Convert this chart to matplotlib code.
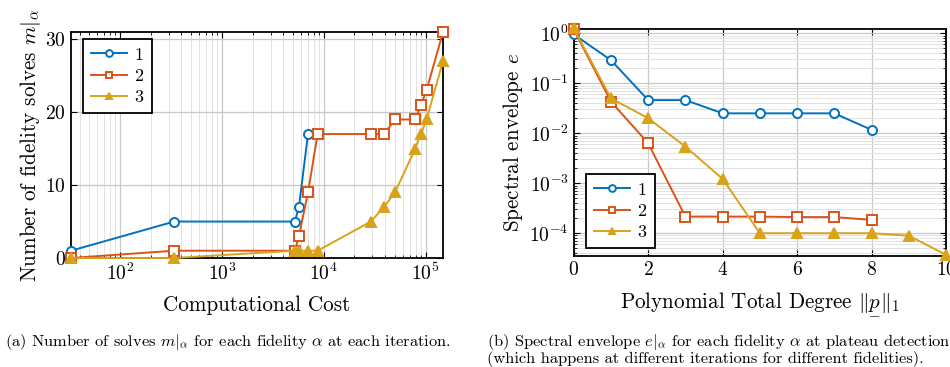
import numpy as np
import matplotlib
matplotlib.use("Agg")
import matplotlib.pyplot as plt
from matplotlib.ticker import LogLocator, NullFormatter

plt.rcParams["font.family"] = "serif"
plt.rcParams["font.serif"] = ["cmr10"]
plt.rcParams["mathtext.fontset"] = "cm"
plt.rcParams["axes.formatter.use_mathtext"] = True

# data
cost = [33, 340, 5200, 5700, 7000, 8700, 29000, 39000, 50000, 79000, 90000, 102000, 148000]
solves_1 = [1, 5, 5, 7, 17]
solves_2 = [0, 1, 1, 3, 9, 17, 17, 17, 19, 19, 21, 23, 31]
solves_3 = [0, 0, 1, 1, 1, 1, 5, 7, 9, 15, 17, 19, 27]

degree = list(range(11))
env_1 = [0.95, 0.29, 0.046, 0.046, 0.025, 0.025, 0.025, 0.025, 0.0117]
env_2 = [1.2, 0.043, 0.0063, 2.15e-4, 2.15e-4, 2.15e-4, 2.1e-4, 2.1e-4, 1.85e-4]
env_3 = [1.25, 0.05, 0.02, 0.0054, 0.00122, 1e-4, 1e-4, 1e-4, 1e-4, 8.9e-5, 3.7e-5]

labels = ["1", "2", "3"]
colors = ["#0072BD", "#D95319", "#D9A21B"]
markers = ["o", "s", "^"]
faces = ["white", "white", "#D9A21B"]

fig = plt.figure(figsize=(9.5, 3.67), dpi=100)
ax1 = fig.add_axes([71 / 950, 1 - 258 / 367, 372 / 950, 226 / 367])
ax2 = fig.add_axes([573.7 / 950, 1 - 256 / 367, 372.3 / 950, 226.7 / 367])

def style(ax):
    for s in ax.spines.values():
        s.set_linewidth(1.3)
    ax.tick_params(which="both", direction="in", top=True, right=True, labelsize=14)
    ax.tick_params(which="major", length=4, width=0.8)
    ax.tick_params(which="minor", length=2.5, width=0.6)
    ax.set_axisbelow(True)

def legend(ax, loc, anchor):
    leg = ax.legend(loc=loc, bbox_to_anchor=anchor, fontsize=13, borderaxespad=0,
                    fancybox=False, edgecolor="black", framealpha=1, handlelength=2.0,
                    handletextpad=0.4, borderpad=0.45, labelspacing=0.3, markerscale=0.75)
    leg.get_frame().set_linewidth(1.3)

kw = dict(lw=1.4, ms=6.5, mew=1.4)

# left plot
series = [(cost[:len(solves_1)], solves_1), (cost, solves_2), (cost, solves_3)]
for (x, y), lab, c, m, f in zip(series, labels, colors, markers, faces):
    ax1.plot(x, y, marker=m, color=c, markerfacecolor=f, label=lab, clip_on=False, zorder=3, **kw)
ax1.set_xscale("log")
ax1.set_xlim(33, 148000)
ax1.set_ylim(0, 31)
ax1.set_yticks([0, 10, 20, 30])
ax1.xaxis.set_minor_locator(LogLocator(base=10, subs=np.arange(2, 10), numticks=20))
ax1.xaxis.set_minor_formatter(NullFormatter())
ax1.grid(which="major", color="#c8c8c8", lw=0.9)
ax1.grid(which="minor", axis="x", color="#e2e2e2", lw=0.7)
style(ax1)
ax1.set_xlabel("Computational Cost", fontsize=15.2, labelpad=8)
ax1.set_ylabel(r"Number of fidelity solves $m|_\alpha$", fontsize=15.2, labelpad=2)
legend(ax1, "upper left", ((83 - 71) / 372, (258 - 39) / 226))

# right plot
for y, lab, c, m, f in zip([env_1, env_2, env_3], labels, colors, markers, faces):
    ax2.plot(degree[:len(y)], y, marker=m, color=c, markerfacecolor=f, label=lab, clip_on=False, zorder=3, **kw)
ax2.set_yscale("log")
ax2.set_xlim(0, 10)
ax2.set_ylim(3.5e-5, 1.2)
ax2.set_xticks([0, 2, 4, 6, 8, 10])
ax2.set_yticks([1e-4, 1e-3, 1e-2, 1e-1, 1])
ax2.yaxis.set_minor_locator(LogLocator(base=10, subs=np.arange(2, 10), numticks=20))
ax2.yaxis.set_minor_formatter(NullFormatter())
ax2.grid(which="major", color="#c8c8c8", lw=0.9)
ax2.grid(which="minor", axis="y", color="#e2e2e2", lw=0.7)
style(ax2)
ax2.set_xlabel(r"Polynomial Total Degree $\|\underset{-}{p}\|_1$", fontsize=15.2, labelpad=8)
ax2.set_ylabel(r"Spectral envelope $e$", fontsize=15.2, labelpad=3)
legend(ax2, "lower left", ((586 - 573.7) / 372.3, (256 - 248) / 226.7))

# captions
fig.text(5 / 950, 1 - 342 / 367, r"(a) Number of solves $m|_\alpha$ for each fidelity $\alpha$ at each iteration.",
         fontsize=11.8, va="center")
fig.text(487 / 950, 1 - 342 / 367, r"(b) Spectral envelope $e|_\alpha$ for each fidelity $\alpha$ at plateau detection",
         fontsize=11.8, va="center")
fig.text(487 / 950, 1 - 359 / 367, "(which happens at different iterations for different fidelities).",
         fontsize=11.8, va="center")

fig.savefig("out.png", dpi=100)
